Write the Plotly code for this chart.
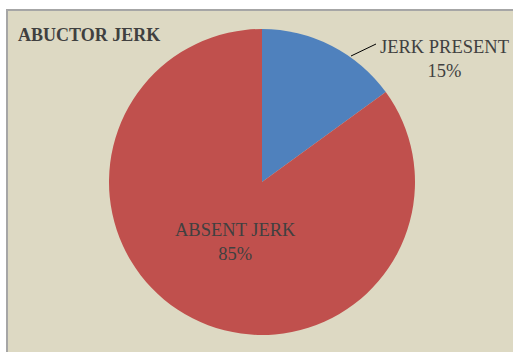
import plotly.graph_objects as go

labels = ["JERK PRESENT", "ABSENT JERK"]
values = [15, 85]
colors = ["#4F81BD", "#C0504D"]
title_text = "ABUCTOR JERK"

W, H = 513, 352
def px(x): return x / W
def py(y): return 1 - y / H

font_family = "Liberation Serif, DejaVu Serif, serif"
txt_color = "#404040"

fig = go.Figure(go.Pie(
    labels=labels, values=values, sort=False, direction="clockwise", rotation=0,
    marker=dict(colors=colors, line=dict(width=0)),
    textinfo="none", hoverinfo="label+percent", showlegend=False,
    domain=dict(x=[px(109), px(415)], y=[py(335), py(29)]),
))

total = sum(values)
pct = [round(v * 100 / total) for v in values]

fig.update_layout(
    width=W, height=H, margin=dict(l=0, r=0, t=0, b=0),
    paper_bgcolor="white",
    shapes=[
        dict(type="rect", xref="paper", yref="paper", x0=px(7), x1=1.05, y0=-0.05, y1=py(10),
             fillcolor="#DDD9C3", line=dict(color="#A6A6A6", width=2), layer="below"),
        dict(type="line", xref="paper", yref="paper", x0=px(351), y0=py(56), x1=px(376), y1=py(44),
             line=dict(color="#000000", width=1)),
    ],
    annotations=[
        dict(text="<b>" + title_text + "</b>", x=px(16), y=py(35), xref="paper", yref="paper",
             xanchor="left", yanchor="middle", showarrow=False,
             font=dict(family=font_family, size=18, color=txt_color)),
        dict(text=f"{labels[0]}<br>{pct[0]}%", x=px(444), y=py(59), xref="paper", yref="paper",
             xanchor="center", yanchor="middle", showarrow=False, align="center",
             font=dict(family=font_family, size=18.5, color=txt_color)),
        dict(text=f"{labels[1]}<br>{pct[1]}%", x=px(235), y=py(242), xref="paper", yref="paper",
             xanchor="center", yanchor="middle", showarrow=False, align="center",
             font=dict(family=font_family, size=18.5, color=txt_color)),
    ],
)

fig.write_html("out.html", config={"displayModeBar": False},
               post_script="document.body.style.margin='0';document.body.style.padding='0';document.body.style.overflow='hidden';")
